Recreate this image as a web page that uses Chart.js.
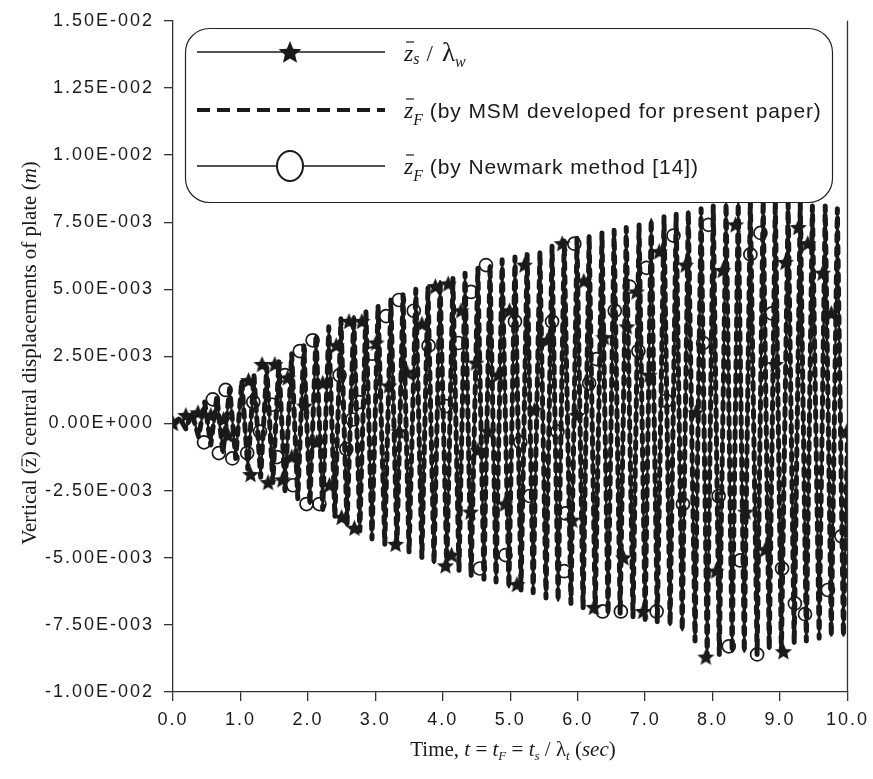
<!DOCTYPE html>
<html>
<head>
<meta charset="utf-8">
<script src="https://cdn.jsdelivr.net/npm/chart.js@4.4.1/dist/chart.umd.min.js"></script>
<style>
  html, body { margin: 0; padding: 0; background: #fff; }
  #wrap { width: 873px; height: 779px; }
</style>
</head>
<body>
<div id="wrap"><canvas id="chart" width="873" height="779"></canvas></div>
<script>
// time of each turning point of the response (s)
const sampleTimes = [
  0.00,
  0.10, 0.19, 0.28, 0.38, 0.47, 0.56, 0.65, 0.74, 0.84, 0.93,
  1.02, 1.11, 1.20, 1.30, 1.39, 1.48, 1.57, 1.66, 1.76, 1.85,
  1.94, 2.03, 2.12, 2.22, 2.31, 2.40, 2.49, 2.58, 2.68, 2.77,
  2.86, 2.95, 3.04, 3.14, 3.23, 3.32, 3.41, 3.50, 3.60, 3.69,
  3.78, 3.87, 3.96, 4.06, 4.15, 4.24, 4.33, 4.42, 4.52, 4.61,
  4.70, 4.79, 4.88, 4.98, 5.07, 5.16, 5.25, 5.34, 5.44, 5.53,
  5.62, 5.71, 5.80, 5.90, 5.99, 6.08, 6.17, 6.26, 6.36, 6.45,
  6.54, 6.63, 6.72, 6.82, 6.91, 7.00, 7.09, 7.18, 7.28, 7.37,
  7.46, 7.55, 7.64, 7.74, 7.83, 7.92, 8.01, 8.10, 8.20, 8.29,
  8.38, 8.47, 8.56, 8.66, 8.75, 8.84, 8.93, 9.02, 9.12, 9.21,
  9.30, 9.39, 9.48, 9.58, 9.67, 9.76, 9.85, 9.94,
  10.00
]
// vertical displacement at those points (mm)
const displacementMM = [
  0.0,
  0.2, -0.2, 0.4, -0.5, 0.8, -0.8, 1.0, -1.1, 1.3, -1.3,
  1.6, -1.7, 1.8, -2.0, 2.1, -2.2, 2.3, -2.5, 2.6, -2.8,
  2.9, -3.0, 3.3, -3.2, 3.6, -3.5, 3.9, -3.8, 4.0, -4.0,
  4.2, -4.3, 4.4, -4.5, 4.6, -4.6, 4.8, -4.8, 5.0, -5.0,
  5.1, -5.2, 5.3, -5.4, 5.4, -5.5, 5.6, -5.7, 5.8, -5.8,
  5.9, -5.9, 6.1, -6.1, 6.2, -6.2, 6.3, -6.3, 6.4, -6.5,
  6.6, -6.6, 6.8, -6.7, 6.9, -6.9, 7.0, -7.0, 7.1, -7.1,
  7.2, -7.1, 7.3, -7.2, 7.4, -7.3, 7.6, -7.4, 7.7, -7.5,
  7.8, -7.7, 7.9, -8.1, 8.0, -8.7, 8.1, -8.6, 8.2, -8.5,
  8.2, -8.5, 8.3, -8.6, 8.3, -8.4, 8.3, -8.5, 8.2, -8.2,
  8.2, -8.1, 8.1, -8.0, 8.1, -7.9, 8.0, -7.9,
  -0.4
]

// star symbols (z_s / lambda_w)
const starTimes = [
  0.00, 0.19, 0.37, 0.56, 0.75, 0.82, 1.12, 1.15, 1.32, 1.41,
  1.51, 1.62, 1.70, 1.76, 1.95, 2.13, 2.22, 2.32, 2.42, 2.50,
  2.61, 2.69, 2.80, 3.01, 3.20, 3.30, 3.35, 3.47, 3.69, 3.89,
  4.04, 4.08, 4.13, 4.27, 4.41, 4.49, 4.52, 4.67, 4.82, 4.92,
  4.99, 5.10, 5.21, 5.36, 5.55, 5.77, 5.92, 5.99, 6.09, 6.24,
  6.39, 6.68, 6.73, 6.87, 6.97, 7.06, 7.21, 7.60, 7.75, 7.90,
  8.05, 8.15, 8.34, 8.49, 8.78, 8.93, 9.05, 9.08, 9.27, 9.41,
  9.63, 9.76, 9.99
]
const starMM = [
  0.0, 0.3, 0.4, 0.3, 0.15, -0.45, 1.6, -1.9, 2.2, -2.2,
  2.2, -2.1, 1.7, -1.25, 0.65, -0.7, 1.5, -2.3, 2.9, -3.5,
  3.8, -3.9, 3.8, 3.0, 1.4, -4.5, -0.3, 1.9, 3.7, 5.1,
  -5.3, 5.2, -4.9, 4.2, -3.3, 2.25, -1.0, -0.3, 1.8, -3.0,
  4.2, -6.0, 5.9, 0.5, 3.1, 6.7, -3.6, 0.3, 5.3, -6.85,
  3.2, -5.0, 3.6, 4.9, -7.0, 1.8, 6.4, 5.9, 0.4, -8.7,
  -5.5, 5.7, 7.4, -3.3, -4.7, 2.2, -8.5, 6.0, 7.3, 6.7,
  5.6, 4.1, -0.3
]

// open circle symbols (Newmark)
const circleTimes = [
  0.46, 0.59, 0.68, 0.78, 0.88, 1.10, 1.19, 1.29, 1.47, 1.54,
  1.66, 1.78, 1.88, 1.98, 2.07, 2.17, 2.47, 2.57, 2.66, 2.76,
  2.95, 3.16, 3.35, 3.57, 3.79, 4.05, 4.23, 4.42, 4.55, 4.64,
  4.93, 5.07, 5.15, 5.29, 5.62, 5.70, 5.80, 5.82, 5.95, 6.17,
  6.28, 6.37, 6.55, 6.64, 6.77, 6.90, 7.02, 7.17, 7.31, 7.42,
  7.56, 7.86, 7.94, 8.09, 8.24, 8.41, 8.56, 8.66, 8.71, 8.88,
  9.03, 9.22, 9.37, 9.71, 9.91
]
const circleMM = [
  -0.7, 0.9, -1.1, 1.25, -1.3, -1.1, 0.8, -0.3, 0.7, -1.25,
  1.8, -2.3, 2.7, -3.0, 3.1, -3.0, 1.8, -0.95, 0.15, 0.8,
  2.6, 4.0, 4.6, 4.2, 2.9, 0.65, 3.0, 4.9, -5.4, 5.9,
  -4.9, 3.8, -0.7, -2.7, 3.8, -0.3, -5.5, -3.35, 6.7, 1.5,
  2.4, -7.0, 4.2, -7.0, 5.1, 2.7, 5.8, -7.0, 0.85, 7.0,
  -3.0, 3.0, 7.4, -2.7, -8.3, -5.1, 6.3, -8.6, 7.1, 4.1,
  -5.4, -6.7, -7.1, -6.2, -4.2
]

const xTicks = [0, 1, 2, 3, 4, 5, 6, 7, 8, 9, 10]
const yTicks = [-0.01, -0.0075, -0.005, -0.0025, 0, 0.0025, 0.005, 0.0075, 0.01, 0.0125, 0.015]

const SERIF = '"Liberation Serif", "Times New Roman", serif'
const SANS = '"Liberation Sans", Arial, sans-serif'
const INK = '#1a1a1a'

const toPoints = (times, mm) => times.map((t, i) => ({ x: t, y: mm[i] / 1000 }))

// 1.50E-002 style
function sciLabel(v) {
  if (Math.abs(v) < 1e-12) return '0.00E+000'
  const exp = Math.floor(Math.log10(Math.abs(v)) + 1e-9)
  const mant = v / Math.pow(10, exp)
  const sign = exp < 0 ? '-' : '+'
  return `${mant.toFixed(2)}E${sign}${String(Math.abs(exp)).padStart(3, '0')}`
}

function starPath(g, cx, cy, R) {
  const r = R * 0.45
  g.beginPath()
  for (let i = 0; i < 10; i++) {
    const a = -Math.PI / 2 + (i * Math.PI) / 5
    const rad = i % 2 ? r : R
    g.lineTo(cx + rad * Math.cos(a), cy + rad * Math.sin(a))
  }
  g.closePath()
}

function makeStar(size) {
  const c = document.createElement('canvas')
  c.width = size
  c.height = size
  const g = c.getContext('2d')
  starPath(g, size / 2, size / 2 + 0.5, size / 2 - 0.5)
  g.fillStyle = INK
  g.fill()
  return c
}

// draws a run of text pieces (italic, subscripts, overbars)
function drawRuns(ctx, runs, x, y, align) {
  let w = 0
  runs.forEach((r) => {
    ctx.font = r.font
    ctx.letterSpacing = r.ls || '0px'
    r.w = ctx.measureText(r.t).width + (r.kern || 0)
    w += r.w
  })
  let cx = align === 'center' ? x - w / 2 : x
  ctx.textAlign = 'left'
  ctx.textBaseline = 'alphabetic'
  runs.forEach((r) => {
    ctx.font = r.font
    ctx.letterSpacing = r.ls || '0px'
    ctx.fillText(r.t, cx, y + (r.dy || 0))
    if (r.bar) {
      ctx.save()
      ctx.lineWidth = 1.2
      ctx.strokeStyle = INK
      ctx.beginPath()
      ctx.moveTo(cx + r.bar[0], y - r.bar[2])
      ctx.lineTo(cx + r.bar[1], y - r.bar[2])
      ctx.stroke()
      ctx.restore()
    }
    cx += r.w
  })
  ctx.letterSpacing = '0px'
}

const decorations = {
  id: 'decorations',
  beforeDraw(chart) {
    chart.ctx.letterSpacing = '2px'
  },
  beforeDatasetsDraw(chart) {
    chart.ctx.letterSpacing = '0px'
  },
  afterDraw(chart) {
    const { ctx, chartArea } = chart
    ctx.save()
    ctx.letterSpacing = '0px'
    ctx.fillStyle = INK

    // right frame line
    ctx.strokeStyle = '#333'
    ctx.lineWidth = 1.3
    ctx.beginPath()
    ctx.moveTo(chartArea.right, chartArea.top)
    ctx.lineTo(chartArea.right, chartArea.bottom)
    ctx.stroke()

    // legend box
    ctx.beginPath()
    ctx.roundRect(185.5, 28.5, 647, 174, 24)
    ctx.fillStyle = '#fff'
    ctx.fill()
    ctx.strokeStyle = '#222'
    ctx.lineWidth = 1.2
    ctx.stroke()

    const lx0 = 197
    const lx1 = 385
    const mid = 290
    ctx.strokeStyle = INK
    ctx.fillStyle = INK

    // row 1: solid line with star
    ctx.lineWidth = 1.6
    ctx.beginPath()
    ctx.moveTo(lx0, 52)
    ctx.lineTo(lx1, 52)
    ctx.stroke()
    starPath(ctx, mid, 53, 12)
    ctx.fill()

    // row 2: dashed thick line
    ctx.save()
    ctx.lineWidth = 4.2
    ctx.setLineDash([13, 7])
    ctx.beginPath()
    ctx.moveTo(lx0, 110)
    ctx.lineTo(lx1, 110)
    ctx.stroke()
    ctx.restore()

    // row 3: solid line with open circle
    ctx.lineWidth = 1.6
    ctx.beginPath()
    ctx.moveTo(lx0, 166)
    ctx.lineTo(mid - 13, 166)
    ctx.moveTo(mid + 13, 166)
    ctx.lineTo(lx1, 166)
    ctx.stroke()
    ctx.lineWidth = 2
    ctx.beginPath()
    ctx.ellipse(mid, 166, 13, 15, 0, 0, Math.PI * 2)
    ctx.stroke()

    const zIt = `italic 24px ${SERIF}`
    const subIt = `italic 16px ${SERIF}`
    const desc = `21px ${SANS}`
    drawRuns(ctx, [
      { t: 'z', font: zIt, bar: [2, 10, 19] },
      { t: 's', font: subIt, dy: 3, kern: 7 },
      { t: '/', font: `23px ${SERIF}`, kern: 9 },
      { t: 'λ', font: `27px ${SERIF}` },
      { t: 'w', font: subIt, dy: 6 },
    ], 404, 61)
    drawRuns(ctx, [
      { t: 'z', font: zIt, bar: [2, 10, 19] },
      { t: 'F', font: subIt, dy: 7 },
      { t: ' (by MSM developed for present paper)', font: desc, ls: '0.9px' },
    ], 404, 118)
    drawRuns(ctx, [
      { t: 'z', font: zIt, bar: [2, 10, 19] },
      { t: 'F', font: subIt, dy: 7 },
      { t: ' (by Newmark method [14])', font: desc, ls: '0.9px' },
    ], 404, 174)

    // x axis title
    const f = `21px ${SERIF}`
    const fi = `italic 21px ${SERIF}`
    const fs = `italic 13px ${SERIF}`
    drawRuns(ctx, [
      { t: 'Time, ', font: f },
      { t: 't', font: fi },
      { t: ' = ', font: f },
      { t: 't', font: fi },
      { t: 'F', font: fs, dy: 4 },
      { t: ' = ', font: f },
      { t: 't', font: fi },
      { t: 's', font: fs, dy: 4 },
      { t: ' / ', font: f },
      { t: 'λ', font: f },
      { t: 't', font: fs, dy: 4 },
      { t: ' (', font: f },
      { t: 'sec', font: fi },
      { t: ')', font: f },
    ], 513, 756, 'center')

    // y axis title
    ctx.translate(29, 353)
    ctx.rotate(-Math.PI / 2)
    drawRuns(ctx, [
      { t: 'Vertical (', font: f },
      { t: 'z', font: f, bar: [1, 9, 14] },
      { t: ') central displacements of plate (', font: f },
      { t: 'm', font: fi },
      { t: ')', font: f },
    ], 0, 7, 'center')
    ctx.restore()
  },
}

const starImg = makeStar(19)

const axisCommon = {
  type: 'linear',
  grid: { drawOnChartArea: false, drawTicks: true, tickLength: 9, color: '#333', lineWidth: 1.3 },
  border: { display: true, color: '#333', width: 1.3 },
}

const chart = new Chart(document.getElementById('chart'), {
  type: 'scatter',
  data: {
    datasets: [
      {
        label: 'z_s / lambda_w (stars)',
        data: toPoints(starTimes, starMM),
        showLine: false,
        pointStyle: starImg,
        pointRadius: 9,
        order: 1,
      },
      {
        label: 'z_F Newmark (circles)',
        data: toPoints(circleTimes, circleMM),
        showLine: false,
        pointStyle: 'circle',
        pointRadius: 6.5,
        borderColor: INK,
        borderWidth: 1.7,
        backgroundColor: 'rgba(0,0,0,0)',
        order: 2,
      },
      {
        label: 'z_F by MSM',
        data: toPoints(sampleTimes, displacementMM),
        showLine: true,
        pointRadius: 0,
        borderColor: INK,
        borderWidth: 5,
        borderDash: [7, 7],
        borderCapStyle: 'round',
        borderJoinStyle: 'round',
        order: 3,
      },
      {
        label: 'z_s / lambda_w',
        data: toPoints(sampleTimes, displacementMM),
        showLine: true,
        pointRadius: 0,
        borderColor: INK,
        borderWidth: 2.3,
        borderJoinStyle: 'round',
        order: 4,
      },
    ],
  },
  options: {
    responsive: false,
    animation: false,
    devicePixelRatio: 1,
    layout: { autoPadding: false, padding: { left: 0, top: 14, right: 19, bottom: 0 } },
    plugins: { legend: { display: false }, tooltip: { enabled: false } },
    scales: {
      x: {
        ...axisCommon,
        position: 'bottom',
        min: 0,
        max: 10,
        afterBuildTicks: (scale) => { scale.ticks = xTicks.map((v) => ({ value: v })) },
        afterFit: (scale) => { scale.height = 87 },
        ticks: {
          autoSkip: false,
          maxRotation: 0,
          padding: 8,
          color: INK,
          font: { family: SANS, size: 18 },
          callback: (v) => Number(v).toFixed(1),
        },
      },
      y: {
        ...axisCommon,
        position: 'left',
        min: -0.01,
        max: 0.015,
        afterBuildTicks: (scale) => { scale.ticks = yTicks.map((v) => ({ value: v })) },
        afterFit: (scale) => { scale.width = 173 },
        ticks: {
          autoSkip: false,
          padding: 10,
          color: INK,
          font: { family: SANS, size: 18 },
          callback: (v) => sciLabel(v),
        },
      },
    },
  },
  plugins: [decorations],
})
</script>
</body>
</html>
